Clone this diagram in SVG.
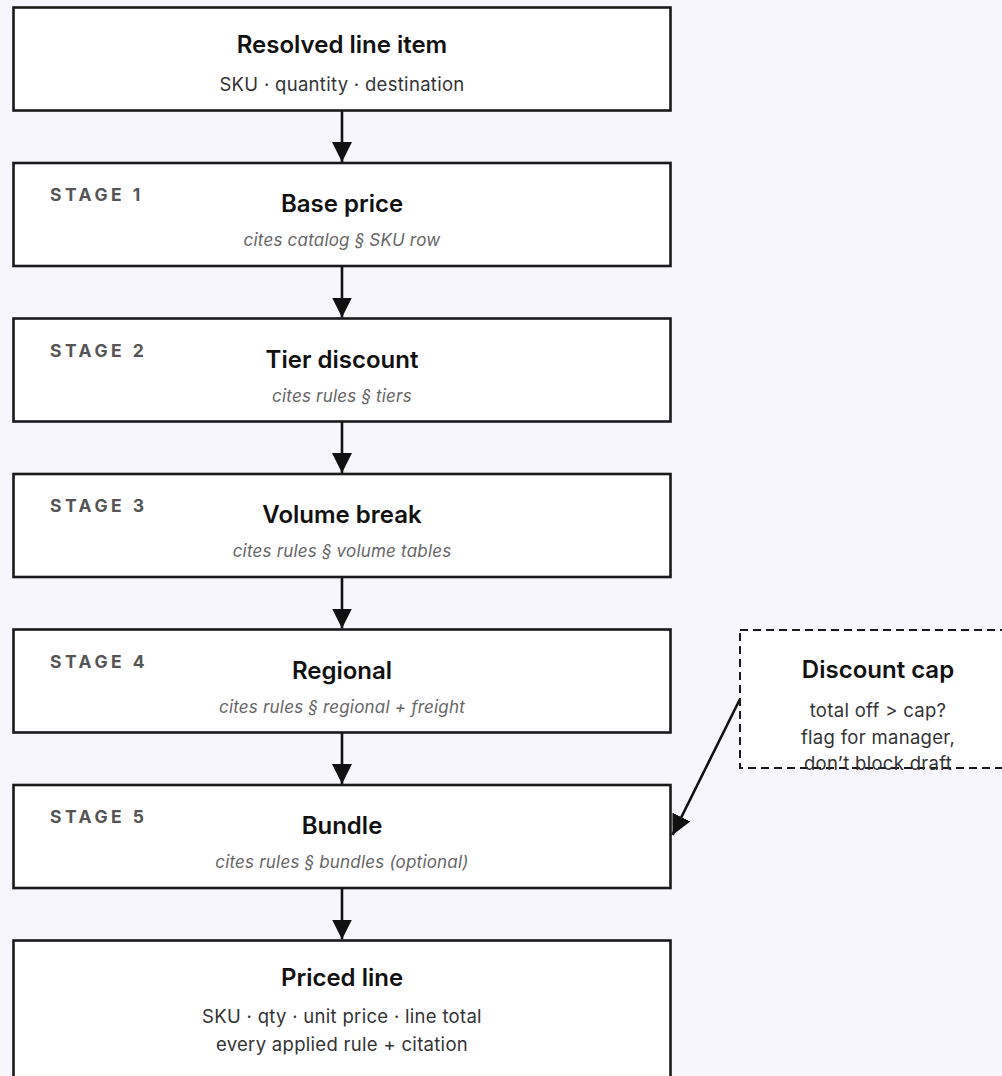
<svg xmlns="http://www.w3.org/2000/svg" width="1002" height="1076" viewBox="0 0 1002 1076">
<style>
.bg{fill:#f7f6fd}
.box{fill:#ffffff;stroke:#1a1a1a;stroke-width:2.6}
.dash{fill:#ffffff;stroke:#1a1a1a;stroke-width:2;stroke-dasharray:8 5}
.title{font-family:Inter,"Noto Sans",sans-serif;font-size:24px;font-weight:600;fill:#111111;text-anchor:middle}
.sub{font-family:Inter,"Noto Sans",sans-serif;font-size:18.5px;letter-spacing:0.3px;fill:#333333;text-anchor:middle}
.cite{font-family:Inter,"Noto Sans",sans-serif;font-size:17px;letter-spacing:0.2px;font-style:italic;fill:#666666;text-anchor:middle}
.stage{font-family:Inter,"Noto Sans",sans-serif;font-size:17.5px;font-weight:700;fill:#555555;letter-spacing:3.5px}
.edge{stroke:#111111;stroke-width:2.6;fill:none}
</style>
<defs>
<marker id="arr" viewBox="0 0 10 10" refX="10" refY="5" markerWidth="20" markerHeight="20" markerUnits="userSpaceOnUse" orient="auto">
<path d="M0,0 L10,5 L0,10 z" fill="#111111"/>
</marker>
</defs>
<rect class="bg" x="0" y="0" width="1002" height="1076"/>
<g id="connectors">
<line class="edge" x1="342" y1="110.5" x2="342" y2="162" marker-end="url(#arr)"/>
<line class="edge" x1="342" y1="266" x2="342" y2="317.5" marker-end="url(#arr)"/>
<line class="edge" x1="342" y1="421.5" x2="342" y2="473" marker-end="url(#arr)"/>
<line class="edge" x1="342" y1="577" x2="342" y2="628.5" marker-end="url(#arr)"/>
<line class="edge" x1="342" y1="732.5" x2="342" y2="784" marker-end="url(#arr)"/>
<line class="edge" x1="342" y1="888" x2="342" y2="939.5" marker-end="url(#arr)"/>
<line class="edge" x1="740" y1="699" x2="672.5" y2="835" marker-end="url(#arr)"/>
</g>
<g id="resolved">
<rect class="box" x="13.5" y="7.5" width="657" height="103"/>
<text class="title" x="342" y="53">Resolved line item</text>
<text class="sub" x="342" y="91">SKU · quantity · destination</text>
</g>
<g id="stage1">
<rect class="box" x="13.5" y="163" width="657" height="103"/>
<text class="stage" x="50" y="201">STAGE 1</text>
<text class="title" x="342" y="212">Base price</text>
<text class="cite" x="342" y="246">cites catalog § SKU row</text>
</g>
<g id="stage2">
<rect class="box" x="13.5" y="318.5" width="657" height="103"/>
<text class="stage" x="50" y="356.5">STAGE 2</text>
<text class="title" x="342" y="367.5">Tier discount</text>
<text class="cite" x="342" y="401.5">cites rules § tiers</text>
</g>
<g id="stage3">
<rect class="box" x="13.5" y="474" width="657" height="103"/>
<text class="stage" x="50" y="512">STAGE 3</text>
<text class="title" x="342" y="523">Volume break</text>
<text class="cite" x="342" y="557">cites rules § volume tables</text>
</g>
<g id="stage4">
<rect class="box" x="13.5" y="629.5" width="657" height="103"/>
<text class="stage" x="50" y="667.5">STAGE 4</text>
<text class="title" x="342" y="678.5">Regional</text>
<text class="cite" x="342" y="712.5">cites rules § regional + freight</text>
</g>
<g id="stage5">
<rect class="box" x="13.5" y="785" width="657" height="103"/>
<text class="stage" x="50" y="823">STAGE 5</text>
<text class="title" x="342" y="834">Bundle</text>
<text class="cite" x="342" y="868">cites rules § bundles (optional)</text>
</g>
<g id="priced">
<rect class="box" x="13.5" y="940.5" width="657" height="160"/>
<text class="title" x="342" y="986">Priced line</text>
<text class="sub" x="342" y="1023">SKU · qty · unit price · line total</text>
<text class="sub" x="342" y="1050.5">every applied rule + citation</text>
</g>
<g id="discount-cap">
<rect class="dash" x="740" y="630" width="290" height="138"/>
<text class="title" x="878" y="678">Discount cap</text>
<text class="sub" x="878" y="717">total off &gt; cap?</text>
<text class="sub" x="878" y="743.5">flag for manager,</text>
<text class="sub" x="878" y="770">don’t block draft</text>
</g>
</svg>
